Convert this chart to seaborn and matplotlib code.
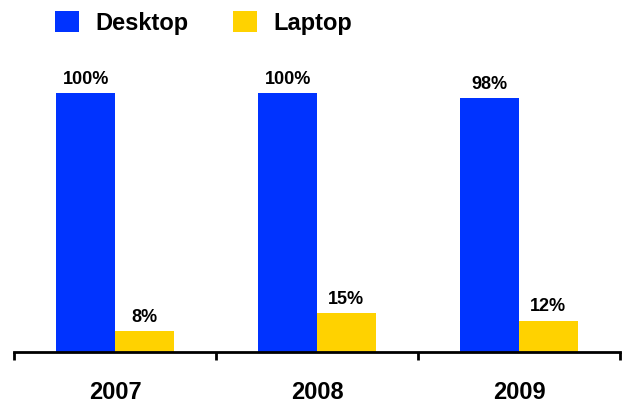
import matplotlib
matplotlib.use("Agg")
import matplotlib.pyplot as plt
import seaborn as sns
import pandas as pd

years = ["2007", "2008", "2009"]
desktop = [100, 100, 98]
laptop = [8, 15, 12]
series = ["Desktop", "Laptop"]
colors = ["#0033FF", "#FFD200"]

df = pd.DataFrame({
    "year": years * 2,
    "share": desktop + laptop,
    "device": [series[0]] * len(years) + [series[1]] * len(years),
})

sns.set_theme(style="white")
plt.rcParams["font.family"] = ["Liberation Sans", "DejaVu Sans"]
plt.rcParams["font.weight"] = "bold"
plt.rcParams["text.color"] = "black"
plt.rcParams["xtick.color"] = "black"
plt.rcParams["xtick.labelcolor"] = "black"

fig = plt.figure(figsize=(6.23, 4.03), dpi=100)
ax = fig.add_axes([14 / 623, 51 / 403, 606 / 623, 312 / 403])

sns.barplot(data=df, x="year", y="share", hue="device", hue_order=series,
            palette=colors, width=0.58, saturation=1, linewidth=0,
            ax=ax, legend=True)

for cont in ax.containers:
    ax.bar_label(cont, fmt="%g%%", padding=4, fontsize=13,
                 fontweight="bold", color="black")

ax.set_xlim(-0.5, 2.5)
ax.set_ylim(0, 120.5)
ax.set_xlabel("")
ax.set_ylabel("")
ax.set_yticks([])

# boundary ticks between groups, year labels centred on groups
ax.set_xticks([-0.5, 0.5, 1.5, 2.5])
ax.set_xticklabels([])
ax.set_xticks([0, 1, 2], minor=True)
ax.set_xticklabels(years, minor=True, fontsize=17, fontweight="bold",
                   color="black")
ax.tick_params(axis="x", which="major", direction="out", length=6, width=2,
               color="black", bottom=True)
ax.tick_params(axis="x", which="minor", length=0, pad=21)

for side in ["left", "top", "right"]:
    ax.spines[side].set_visible(False)
ax.spines["bottom"].set_linewidth(2)
ax.spines["bottom"].set_color("black")

handles, labels = ax.get_legend_handles_labels()
ax.get_legend().remove()
leg = fig.legend(handles, labels, loc="upper left",
                 bbox_to_anchor=(55 / 623, 1 - 11 / 403), ncol=2,
                 frameon=False, prop={"size": 17, "weight": "bold"},
                 handlelength=1.0, handleheight=1.0, handletextpad=0.7,
                 columnspacing=1.9, borderpad=0, borderaxespad=0)
for t in leg.get_texts():
    t.set_color("black")

fig.savefig("out.png", dpi=100)
